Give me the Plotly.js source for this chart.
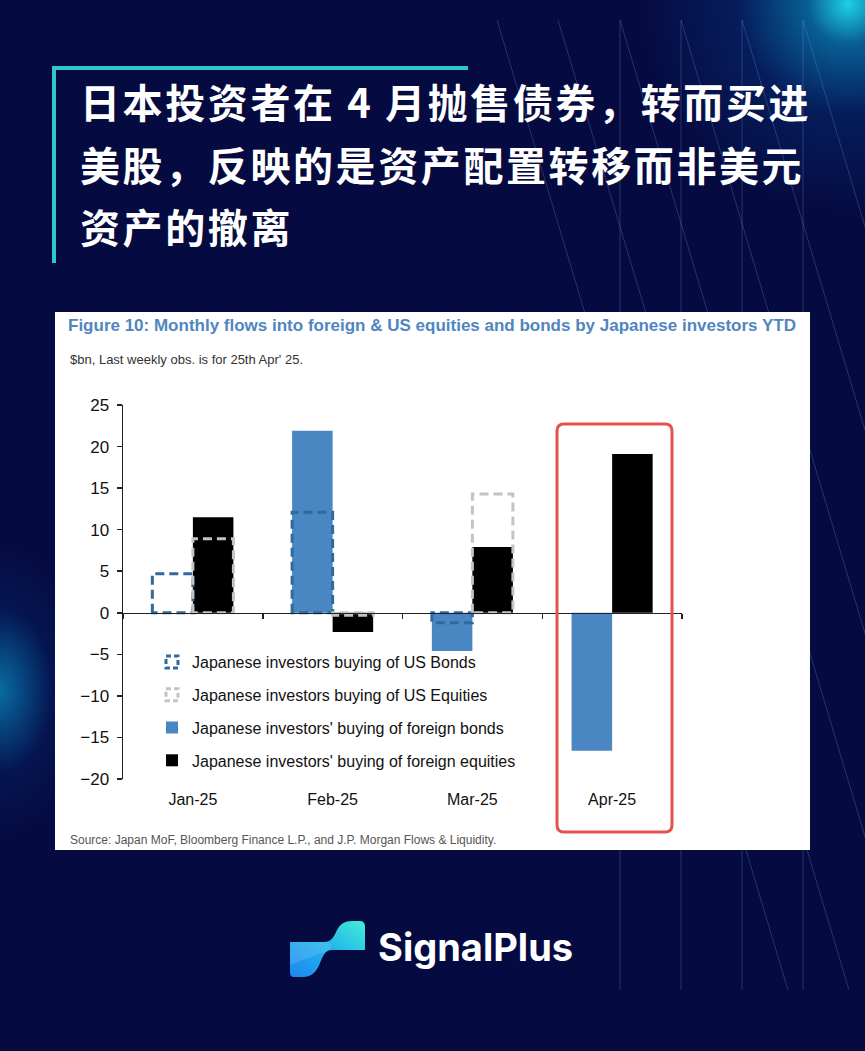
<!DOCTYPE html>
<html><head><meta charset="utf-8">
<script src="https://cdn.plot.ly/plotly-3.0.1.min.js"></script>
<style>
html,body{margin:0;padding:0;}
body{width:865px;height:1051px;position:relative;overflow:hidden;background:#050b41;}
#bg{position:absolute;left:0;top:0;width:865px;height:1051px;
 background:
  radial-gradient(circle at 848px 4px, rgba(30,220,240,0.95) 0px, rgba(10,150,205,0.6) 40px, rgba(6,70,150,0.3) 110px, rgba(5,11,65,0) 210px),
  radial-gradient(ellipse 95px 150px at 0px 690px, rgba(10,140,195,0.75) 0%, rgba(5,40,110,0.35) 55%, rgba(5,11,65,0) 100%),
  #050b41;}
#deco{position:absolute;left:0;top:0;}
#frameTop{position:absolute;left:52px;top:66px;width:416px;height:4px;background:#2fc6cf;}
#frameLeft{position:absolute;left:52px;top:66px;width:4px;height:197px;background:#2fc6cf;}
#headline{position:absolute;left:80px;top:70px;width:775px;color:#fff;
 font-family:'Noto Sans CJK SC','Noto Sans',sans-serif;font-weight:700;font-size:40px;line-height:62.5px;letter-spacing:2.6px;}
#chart{position:absolute;left:55px;top:312px;width:755px;height:538px;background:#fff;}
#logo{position:absolute;left:290px;top:921px;}
#brand{position:absolute;left:378px;top:921px;height:52px;line-height:52px;color:#fff;
 font-family:'Inter','Lato',sans-serif;font-weight:700;font-size:38px;letter-spacing:0px;}
</style></head>
<body>
<div id="bg"></div>
<svg id="deco" width="865" height="1051"></svg>
<div id="frameTop"></div><div id="frameLeft"></div>
<div id="headline">日本投资者在 4 月抛售债券，转而买进<br>美股，反映的是资产配置转移而非美元<br>资产的撤离</div>
<div id="chart"></div>
<svg id="logo" width="78" height="58" viewBox="0 0 78 58">
 <defs><linearGradient id="lg" x1="0" y1="1" x2="1" y2="0">
  <stop offset="0" stop-color="#1c86f2"/><stop offset="0.55" stop-color="#22b8ea"/><stop offset="1" stop-color="#45ecd6"/></linearGradient></defs>
 <path d="M0,21 L34,21 C42,21 44,15 47,9 C50,3 55,0 62,0 L70,0 C74,0 75,3 75,6 L75,29 L42,29 C35,29 33,35 30,42 C27,50 22,56 13,56 L4,56 C1,56 0,54 0,51 Z" fill="url(#lg)"/>
 <path d="M0,21 L34,21 C40,21 43,24 40,29 L0,44 Z" fill="#ffffff" opacity="0.12"/>
</svg>
<div id="brand">SignalPlus</div>
<script>
// ---- decorative background lines ----
(function(){
  const svg = document.getElementById('deco');
  const ns = 'http://www.w3.org/2000/svg';
  const vx = [620, 681, 742, 803];
  const dx = [497, 558, 620, 681, 742, 803];
  function ln(x1,y1,x2,y2){const l=document.createElementNS(ns,'line');
    l.setAttribute('x1',x1);l.setAttribute('y1',y1);l.setAttribute('x2',x2);l.setAttribute('y2',y2);
    l.setAttribute('stroke','rgba(130,150,230,0.28)');l.setAttribute('stroke-width','1');svg.appendChild(l);}
  vx.forEach(x=>ln(x,20,x,990));
  dx.forEach(x=>ln(x,20,x+0.3*970,990));
})();

// ---- data ----
const months = ['Jan-25', 'Feb-25', 'Mar-25', 'Apr-25'];
const usBonds = [4.7, 12.1, -1.2, null];
const usEquities = [8.9, -0.3, 14.3, null];
const foreignBonds = [0, 21.9, -4.6, -16.6];
const foreignEquities = [11.5, -2.3, 7.9, 19.1];
const names = [
  'Japanese investors buying of US Bonds',
  'Japanese investors buying of US Equities',
  "Japanese investors' buying of foreign bonds",
  "Japanese investors' buying of foreign equities"
];
const chartTitle = 'Figure 10: Monthly flows into foreign & US equities and bonds by Japanese investors YTD';
const subTitle = "$bn, Last weekly obs. is for 25th Apr' 25.";
const sourceText = 'Source: Japan MoF, Bloomberg Finance L.P., and J.P. Morgan Flows & Liquidity.';
const yRange = [-20, 25];

// ---- layout geometry ----
const W = 755, H = 538, ML = 68, MR = 128, MT = 93, MB = 71;
const PW = W - ML - MR, PH = H - MT - MB;
const px = x => (x - ML) / PW;
const py = y => (MT + PH - y) / PH;
const ARIAL = "'Liberation Sans',Arial,sans-serif";
const BW = 0.29;

const traces = [
  {type:'bar', name:names[2], x:months, y:foreignBonds, width:BW, offset:-BW,
   marker:{color:'#4a86c1', line:{width:0}}, legendrank:3, legendgroup:'g3', hoverinfo:'skip'},
  {type:'bar', name:names[3], x:months, y:foreignEquities, width:BW, offset:0,
   marker:{color:'#000000', line:{width:0}}, legendrank:4, legendgroup:'g4', hoverinfo:'skip'},
  {type:'bar', name:names[0], x:months, y:usBonds, width:BW, offset:-BW,
   marker:{color:'rgba(0,0,0,0)', line:{color:'#2f6a9e', width:3}}, legendrank:1, legendgroup:'g1', hoverinfo:'skip'},
  {type:'bar', name:names[1], x:months, y:usEquities, width:BW, offset:0,
   marker:{color:'rgba(0,0,0,0)', line:{color:'#c3c3c3', width:3}}, legendrank:2, legendgroup:'g2', hoverinfo:'skip'},
  {type:'scatter', mode:'lines', x:months, y:months.map(()=>null), xaxis:'x2', showlegend:false, hoverinfo:'skip'}
];

const rx = 7 / PW, ry = 7 / PH;
const bx0 = px(502), bx1 = px(617), bt = py(112), bb = py(520);
const boxPath = `M${bx0+rx},${bt} L${bx1-rx},${bt} Q${bx1},${bt} ${bx1},${bt-ry} L${bx1},${bb+ry} Q${bx1},${bb} ${bx1-rx},${bb} L${bx0+rx},${bb} Q${bx0},${bb} ${bx0},${bb+ry} L${bx0},${bt-ry} Q${bx0},${bt} ${bx0+rx},${bt} Z`;

const layout = {
  width: W, height: H,
  margin: {l:ML, r:MR, t:MT, b:MB, pad:0},
  paper_bgcolor:'#ffffff', plot_bgcolor:'rgba(0,0,0,0)',
  barmode:'overlay',
  showlegend:true,
  title:{text:'<b>'+chartTitle+'</b>', x:13/W, xanchor:'left', xref:'container',
         y:1-13/H, yanchor:'middle', yref:'container',
         font:{family:ARIAL, size:17, color:'#4f86c0'}},
  xaxis:{type:'category', categoryarray:months, categoryorder:'array', range:[-0.5,3.5],
         showline:false, ticks:'', showgrid:false, zeroline:false,
         tickfont:{family:ARIAL, size:16, color:'#111'}, ticklabelstandoff:9, fixedrange:true},
  xaxis2:{type:'category', categoryarray:months, categoryorder:'array', range:[-0.5,3.5],
          overlaying:'x', anchor:'free', position:(0-yRange[0])/(yRange[1]-yRange[0]),
          showline:true, linecolor:'#222', linewidth:1.5, ticks:'outside', tickson:'boundaries',
          ticklen:5, tickwidth:1.5, tickcolor:'#222', showticklabels:false, showgrid:false, zeroline:false},
  yaxis:{range:yRange, tick0:0, dtick:5, showline:true, linecolor:'#222', linewidth:1.5,
         ticks:'outside', ticklen:5, tickwidth:1.5, tickcolor:'#222', showgrid:false, zeroline:false,
         tickfont:{family:ARIAL, size:17, color:'#111'}, ticklabelstandoff:4, fixedrange:true},
  legend:{x:px(97), y:py(333), xanchor:'left', yanchor:'top', bgcolor:'rgba(0,0,0,0)',
          traceorder:'grouped', tracegroupgap:9,
          font:{family:ARIAL, size:16, color:'#111'}},
  annotations:[
    {text:subTitle, xref:'paper', yref:'paper', x:px(13), y:py(48), xanchor:'left', yanchor:'middle',
     showarrow:false, font:{family:ARIAL, size:13, color:'#333'}},
    {text:sourceText, xref:'paper', yref:'paper', x:px(13), y:py(528), xanchor:'left', yanchor:'middle',
     showarrow:false, font:{family:ARIAL, size:12, color:'#555'}}
  ],
  shapes:[
    {type:'path', xref:'paper', yref:'paper', path:boxPath, line:{color:'#e3534d', width:3}, fillcolor:'rgba(0,0,0,0)'}
  ]
};

Plotly.newPlot('chart', traces, layout, {staticPlot:true, displayModeBar:false}).then(gd => {
  const barTraces = gd.querySelectorAll('.cartesianlayer .subplot.xy .barlayer .trace');
  [2,3].forEach(i => {
    if (barTraces[i]) barTraces[i].querySelectorAll('path').forEach(p => p.style.strokeDasharray = '9,5');
  });
  gd.querySelectorAll('.legend .traces').forEach(t => {
    const tx = t.querySelector('.legendtext');
    if (tx && tx.textContent.indexOf('US') >= 0) {
      t.querySelectorAll('.legendpoints path').forEach(p => p.style.strokeDasharray = '5,3');
    }
  });
});
</script>
</body></html>
